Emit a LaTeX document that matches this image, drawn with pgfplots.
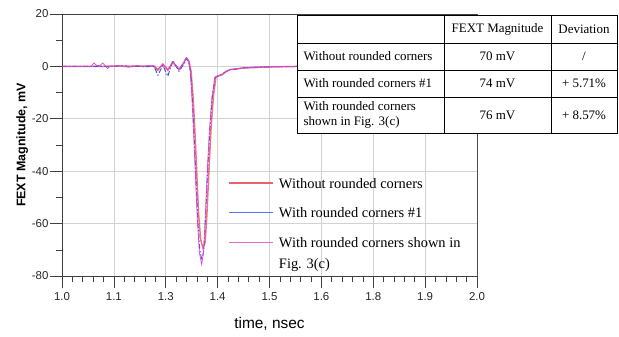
\documentclass[border=0pt]{standalone}
\usepackage{fontspec}
\setmainfont{Liberation Serif}
\newfontfamily\sansf{Liberation Sans}
\usepackage{pgfplots}
\pgfplotsset{compat=1.18}
\usepackage{pgfplotstable}

\definecolor{cred}{HTML}{E8484F}
\definecolor{cblue}{HTML}{3552E0}
\definecolor{cmag}{HTML}{E33FD6}
\definecolor{axgray}{HTML}{404040}
\definecolor{gridgray}{HTML}{D2D2D2}

\pgfplotstableread{
t v
1.000 0
1.050 0
1.100 0
1.140 0.2
1.160 -0.2
1.180 0.2
1.200 0
1.220 0.2
1.231 -1.5
1.243 0.8
1.255 -1.5
1.267 1.5
1.282 -1.2
1.292 1.0
1.300 3.2
1.306 2.0
1.311 -2
1.316 -12
1.320 -24
1.324 -38
1.329 -56
1.334 -66
1.340 -69.5
1.345 -67
1.349 -57
1.354 -40
1.359 -24
1.365 -11
1.371 -4
1.378 -3.6
1.386 -3.2
1.395 -2
1.405 -1.2
1.420 -1.0
1.436 -0.6
1.455 -0.5
1.477 -0.3
1.510 -0.2
1.573 0
2.000 0
}\redtab

\pgfplotstableread{
t v
1.000 0
1.100 0
1.150 0.2
1.200 -0.1
1.222 0
1.231 -3.4
1.243 0.4
1.255 -3.8
1.267 2.3
1.282 -1.9
1.292 0.5
1.301 3.0
1.306 1.2
1.310 -2
1.314 -12
1.318 -25
1.322 -40
1.327 -58
1.332 -70
1.337 -74
1.342 -70
1.346 -57
1.351 -40
1.356 -25
1.362 -12
1.369 -4.2
1.377 -3.6
1.385 -3
1.395 -2
1.405 -1.2
1.420 -1.0
1.436 -0.6
1.455 -0.4
1.477 -0.3
1.520 -0.1
1.573 0
2.000 0
}\bluetab

\pgfplotstableread{
t v
1.000 0
1.070 0
1.077 1.3
1.084 0.3
1.092 0.4
1.098 1.3
1.104 0.3
1.110 -0.8
1.116 0
1.130 0.2
1.160 0.1
1.200 0.2
1.222 0.3
1.231 -1.2
1.243 1.0
1.255 -1.2
1.267 1.8
1.282 -1.0
1.292 1.2
1.299 3.3
1.305 1.8
1.309 -2
1.313 -12
1.317 -25
1.321 -40
1.326 -58
1.331 -71
1.3365 -75.6
1.341 -71
1.345 -58
1.350 -40
1.355 -25
1.361 -12
1.368 -4.2
1.376 -3.5
1.385 -3
1.395 -2
1.405 -1.2
1.420 -0.9
1.436 -0.6
1.455 -0.4
1.477 -0.2
1.540 0
2.000 0
}\magtab

\begin{document}
\begin{tikzpicture}
\path[use as bounding box] (-62bp,-61bp) rectangle (557bp,276bp);
\begin{axis}[
  at={(0,0)}, anchor=south west,
  width=415bp, height=262bp, scale only axis,
  xmin=1, xmax=2, ymin=-80, ymax=20,
  xtick={1,1.125,...,2.01},
  xticklabels={1.0,1.1,1.3,1.4,1.5,1.6,1.8,1.9,2.0},
  ytick={-80,-60,-40,-20,0,20},
  minor x tick num=4,
  minor y tick num=1,
  tick align=outside,
  major tick length=12bp,
  minor tick length=6bp,
  tick style={axgray, line width=0.6pt},
  xtick pos=left, ytick pos=left,
  grid=major,
  major grid style={gridgray, line width=0.6pt},
  axis line style={axgray, line width=0.8pt},
  /pgf/number format/assume math mode=true,
  ticklabel style={font=\sansf\fontsize{11.5}{13}\selectfont, text=black!85},
  xticklabel style={yshift=-1bp},
  yticklabel style={xshift=2bp},
  xlabel={\sansf\fontsize{15.5}{17}\selectfont time, nsec},
  ylabel={\sansf\bfseries\fontsize{12.5}{14}\selectfont FEXT Magnitude, mV},
  xlabel style={at={(ticklabel cs:0.5)}, anchor=north, yshift=-10bp},
  ylabel style={at={(ticklabel cs:0.5)}, anchor=south, yshift=-3bp},
  legend style={at={(rel axis cs:0.393,0.39)}, anchor=north west, draw=none, fill=none,
    font=\fontsize{14.5}{22}\selectfont, row sep=14bp,
    cells={anchor=base west}},
  legend image code/.code={\path[draw=none,fill=none] (0bp,0bp) (48bp,0bp); \draw[#1,solid] (0bp,5bp) -- (44bp,5bp);},
]
\addplot[cred, line width=1.5pt, opacity=0.75, forget plot] table[x=t,y=v] {\redtab};
\addplot[cblue, line width=0.9pt, dash pattern=on 5pt off 2pt on 1.5pt off 2pt, forget plot] table[x=t,y=v] {\bluetab};
\addplot[cmag, line width=0.7pt, forget plot] table[x=t,y=v] {\magtab};
\addlegendimage{color=cred!85, line width=1.2pt}
\addlegendentry{Without rounded corners}
\addlegendimage{color=cblue!80, line width=1.4pt}
\addlegendentry{With rounded corners \#1}
\addlegendimage{color=cmag!80, line width=0.9pt}
\addlegendentry{\vtop{\hbox{With rounded corners shown in}\hbox{Fig. 3(c)}}}
\draw[gray!60, line width=0.8pt] (rel axis cs:1,0) -- (rel axis cs:1,1);
\end{axis}
% table
\begin{scope}[font=\fontsize{13}{15.5}\selectfont]
\fill[white] (235bp,143bp) rectangle (555bp,261bp);
\draw[black, line width=0.8pt] (235bp,143bp) rectangle (555bp,261bp);
\foreach \yy in {233,206,179} \draw[black, line width=0.8pt] (235bp,\yy bp) -- (555bp,\yy bp);
\foreach \xx in {382,489} \draw[black, line width=0.8pt] (\xx bp,143bp) -- (\xx bp,261bp);
\node at (435.5bp,247bp) {FEXT Magnitude};
\node at (522bp,247bp) {Deviation};
\node[anchor=west] at (238bp,219.5bp) {Without rounded corners};
\node at (435.5bp,219.5bp) {70 mV};
\node at (522bp,219.5bp) {/};
\node[anchor=west] at (238bp,192.5bp) {With rounded corners \#1};
\node at (435.5bp,192.5bp) {74 mV};
\node at (522bp,192.5bp) {+ 5.71\%};
\node[anchor=west, align=left] at (238bp,161bp) {With rounded corners\\shown in Fig. 3(c)};
\node at (435.5bp,161bp) {76 mV};
\node at (522bp,161bp) {+ 8.57\%};
\end{scope}
\end{tikzpicture}
\end{document}
